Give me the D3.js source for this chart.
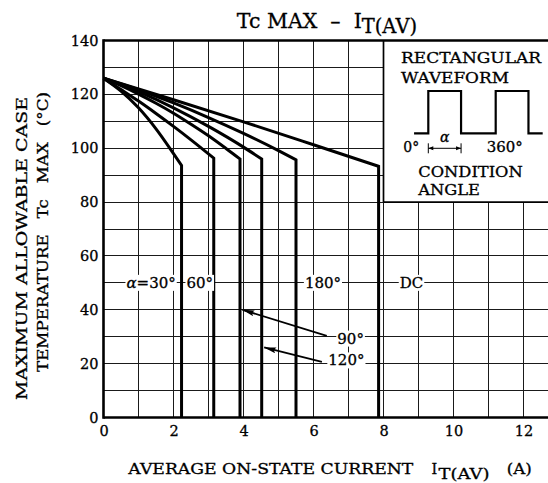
<!DOCTYPE html>
<html>
<head>
<meta charset="utf-8">
<script src="https://cdn.jsdelivr.net/npm/d3@7"></script>
<style>
  html, body { margin: 0; padding: 0; background: #fff; }
  svg { display: block; }
  text { font-family: "DejaVu Serif", "Liberation Serif", serif; fill: #000; stroke: #000; stroke-width: 0.3px; }
</style>
</head>
<body>
<svg id="chart" width="548" height="483"></svg>
<script>
// Allowable case temperature vs. average on-state current, per conduction angle.
// Each curve runs from no-load down to its kink, then drops vertically to 0 °C.
const current30  = [0, 0.5, 1.0, 1.5, 2.0, 2.23];
const temp30     = [126, 121.2, 115.0, 107.2, 98.0, 93.6];
const current60  = [0, 0.5, 1.0, 1.5, 2.0, 2.5, 3.15];
const temp60     = [126, 121.8, 117.5, 112.9, 108.1, 103.1, 96.3];
const current90  = [0, 0.5, 1.0, 1.5, 2.0, 2.5, 3.0, 3.5, 3.9];
const temp90     = [126, 123.2, 120.1, 116.7, 113.0, 108.9, 104.6, 99.9, 96.0];
const current120 = [0, 1.0, 2.0, 3.0, 4.0, 4.52];
const temp120    = [126, 121.0, 115.0, 108.1, 100.4, 96.0];
const current180 = [0, 1.0, 2.0, 3.0, 4.0, 5.0, 5.5];
const temp180    = [126, 121.7, 116.8, 111.4, 105.5, 99.1, 95.7];
const currentDC  = [0, 2.0, 4.0, 6.0, 7.86];
const tempDC     = [126, 118.0, 109.8, 101.3, 93.3];

const xTicks = [0, 2, 4, 6, 8, 10, 12];
const yTicks = [0, 20, 40, 60, 80, 100, 120, 140];

const W = 548, H = 483;
const svg = d3.select("#chart");

const x = d3.scaleLinear().domain([0, 13]).range([103.5, 103.5 + 13 * 35]);
const y = d3.scaleLinear().domain([0, 140]).range([417.5, 40.5]);

const series = [
  { I: current30,  T: temp30 },
  { I: current60,  T: temp60 },
  { I: current90,  T: temp90 },
  { I: current120, T: temp120 },
  { I: current180, T: temp180 },
  { I: currentDC,  T: tempDC }
];

// ---- grid ----
const grid = svg.append("g")
  .attr("stroke", "#1a1a1a").attr("stroke-width", 1)
  .attr("shape-rendering", "crispEdges");
d3.range(1, 14).forEach(v => grid.append("line")
  .attr("x1", x(v)).attr("x2", x(v)).attr("y1", y(0)).attr("y2", y(140)));
d3.range(10, 140, 10).forEach(v => grid.append("line")
  .attr("x1", x(0)).attr("x2", W).attr("y1", y(v)).attr("y2", y(v)));

// ---- waveform inset panel (upper right) ----
svg.append("rect")
  .attr("x", x(8)).attr("y", y(140))
  .attr("width", W - x(8)).attr("height", y(80) - y(140))
  .attr("fill", "#fff");
const insetFrame = svg.append("g").attr("stroke", "#000").attr("stroke-width", 1.7);
insetFrame.append("line").attr("x1", x(8)).attr("x2", x(8)).attr("y1", y(80)).attr("y2", y(140));
insetFrame.append("line").attr("x1", x(8)).attr("x2", W).attr("y1", y(80)).attr("y2", y(80));

// ---- frame ----
const frame = svg.append("g").attr("stroke", "#000").attr("stroke-width", 2.6);
frame.append("line").attr("x1", x(0)).attr("x2", x(0)).attr("y1", y(0) + 1.3).attr("y2", y(140) - 1.3);
frame.append("line").attr("x1", x(0)).attr("x2", W).attr("y1", y(0)).attr("y2", y(0));
frame.append("line").attr("x1", x(0)).attr("x2", W).attr("y1", y(140)).attr("y2", y(140));

// ---- axes (labels only) ----
const yAxis = svg.append("g")
  .attr("transform", `translate(${x(0)},0)`)
  .call(d3.axisLeft(y).tickValues(yTicks).tickSize(0).tickPadding(5).tickFormat(d3.format("d")));
const xAxis = svg.append("g")
  .attr("transform", `translate(0,${y(0)})`)
  .call(d3.axisBottom(x).tickValues(xTicks).tickSize(0).tickPadding(8).tickFormat(d3.format("d")));
[yAxis, xAxis].forEach(g => {
  g.select(".domain").remove();
  g.selectAll("text").attr("font-family", "DejaVu Serif").attr("font-size", 14.5).attr("fill", "#000");
});

// ---- curves ----
const curveLine = d3.line()
  .x(d => x(d[0])).y(d => y(d[1]))
  .curve(d3.curveMonotoneX);
series.forEach(s => {
  const pts = s.I.map((v, i) => [v, s.T[i]]);
  const last = pts[pts.length - 1];
  const d = curveLine(pts) + `L${x(last[0])},${y(0)}`;
  svg.append("path")
    .attr("d", d)
    .attr("fill", "none")
    .attr("stroke", "#000")
    .attr("stroke-width", 3)
    .attr("stroke-linejoin", "miter");
});

// ---- curve labels on the plot (white background boxes) ----
function boxedText(parent, tx, ty, build, anchor) {
  const g = parent.append("g");
  const t = g.append("text")
    .attr("x", tx).attr("y", ty)
    .attr("text-anchor", anchor || "middle")
    .attr("dominant-baseline", "central")
    .attr("font-size", 15);
  build(t);
  const b = t.node().getBBox();
  g.insert("rect", "text")
    .attr("x", b.x - 1).attr("y", b.y + 1)
    .attr("width", b.width + 2).attr("height", b.height - 2)
    .attr("fill", "#fff");
  return g;
}
const labels = svg.append("g");
boxedText(labels, x(1.36), y(50), t => {
  t.append("tspan").attr("font-style", "italic").text("α");
  t.append("tspan").text("=30°");
});
boxedText(labels, x(2.75), y(50), t => t.text("60°"));
boxedText(labels, x(6.27), y(50), t => t.text("180°"));
boxedText(labels, x(8.8), y(50), t => t.text("DC"));
boxedText(labels, x(7.06), y(29.3), t => t.text("90°"));
boxedText(labels, x(6.94), y(21.2), t => t.text("120°"));

// ---- pointer arrows ----
const defs = svg.append("defs");
defs.append("marker")
  .attr("id", "head")
  .attr("viewBox", "0 0 12 6")
  .attr("refX", 12).attr("refY", 3)
  .attr("markerWidth", 12).attr("markerHeight", 6)
  .attr("markerUnits", "userSpaceOnUse")
  .attr("orient", "auto")
  .append("path").attr("d", "M0,0L12,3L0,6L2,3Z").attr("fill", "#000");
const arrows = [
  { from: [6.38, 30.3], to: [3.97, 40.0] },
  { from: [6.24, 20.7], to: [4.59, 26.0] }
];
arrows.forEach(a => svg.append("line")
  .attr("x1", x(a.from[0])).attr("y1", y(a.from[1]))
  .attr("x2", x(a.to[0])).attr("y2", y(a.to[1]))
  .attr("stroke", "#000").attr("stroke-width", 1.8)
  .attr("marker-end", "url(#head)"));

// ---- inset: rectangular waveform sketch ----
const inset = svg.append("g");
inset.append("text").attr("x", 401).attr("y", 62.7).attr("font-size", 14)
  .attr("textLength", 140).attr("lengthAdjust", "spacingAndGlyphs").text("RECTANGULAR");
inset.append("text").attr("x", 401).attr("y", 83.3).attr("font-size", 14)
  .attr("textLength", 108).attr("lengthAdjust", "spacingAndGlyphs").text("WAVEFORM");

// phase axis of the sketch, in degrees
const ph = d3.scaleLinear().domain([0, 360]).range([428.3, 495.7]);
const lev = d3.scaleLinear().domain([0, 1]).range([133.3, 91]);
const waveDeg = [-76, 0, 0, 175, 175, 360, 360, 535, 535, 611];
const waveLev = [0, 0, 1, 1, 0, 0, 1, 1, 0, 0];
inset.append("path")
  .attr("d", d3.line().x(d => ph(d[0])).y(d => lev(d[1]))(waveDeg.map((v, i) => [v, waveLev[i]])))
  .attr("fill", "none").attr("stroke", "#000").attr("stroke-width", 2.2);

// α span marker
const dimY = 148.3;
const dim = inset.append("g").attr("stroke", "#000").attr("stroke-width", 1);
dim.append("line").attr("x1", ph(0)).attr("x2", ph(0)).attr("y1", dimY - 5).attr("y2", dimY + 5);
dim.append("line").attr("x1", ph(175)).attr("x2", ph(175)).attr("y1", dimY - 5).attr("y2", dimY + 5);
dim.append("line").attr("x1", ph(0)).attr("x2", ph(175)).attr("y1", dimY).attr("y2", dimY);
inset.append("path")
  .attr("d", `M${ph(0)},${dimY}l5,-2v4z M${ph(175)},${dimY}l-5,-2v4z`)
  .attr("fill", "#000");
inset.append("text").attr("x", (ph(0) + ph(175)) / 2).attr("y", 141.5)
  .attr("text-anchor", "middle").attr("font-size", 14).attr("font-style", "italic").text("α");
inset.append("text").attr("x", 403.3).attr("y", 151.7).attr("font-size", 14).text("0°");
inset.append("text").attr("x", 486.7).attr("y", 151.7).attr("font-size", 14)
  .attr("textLength", 36).attr("lengthAdjust", "spacingAndGlyphs").text("360°");
inset.append("text").attr("x", 418.3).attr("y", 176.7).attr("font-size", 14)
  .attr("textLength", 104.4).attr("lengthAdjust", "spacingAndGlyphs").text("CONDITION");
inset.append("text").attr("x", 418.3).attr("y", 195).attr("font-size", 14)
  .attr("textLength", 61.7).attr("lengthAdjust", "spacingAndGlyphs").text("ANGLE");

// ---- titles ----
const title = svg.append("text")
  .attr("x", 327).attr("y", 28)
  .attr("text-anchor", "middle").attr("font-size", 20.5)
  .style("white-space", "pre");
title.append("tspan").text("Tc MAX  –  I");
title.append("tspan").attr("dy", 5).attr("font-size", 19.5).text("T(AV)");

svg.append("text").attr("x", 128.3).attr("y", 474.3).attr("font-size", 14.5)
  .attr("textLength", 285).attr("lengthAdjust", "spacingAndGlyphs")
  .text("AVERAGE ON-STATE CURRENT");
svg.append("text").attr("x", 431.5).attr("y", 474.3).attr("font-size", 14.5).text("I");
svg.append("text").attr("x", 438.5).attr("y", 478.5).attr("font-size", 14.5)
  .attr("textLength", 51).attr("lengthAdjust", "spacingAndGlyphs").text("T(AV)");
svg.append("text").attr("x", 506.7).attr("y", 474.3).attr("font-size", 14.5)
  .attr("textLength", 25).attr("lengthAdjust", "spacingAndGlyphs").text("(A)");

svg.append("text")
  .attr("transform", "translate(27,400) rotate(-90)")
  .attr("font-size", 14.5)
  .attr("textLength", 303).attr("lengthAdjust", "spacingAndGlyphs")
  .text("MAXIMUM ALLOWABLE CASE");
svg.append("text")
  .attr("transform", "translate(48,372) rotate(-90)")
  .attr("font-size", 14.5)
  .style("white-space", "pre")
  .attr("textLength", 280).attr("lengthAdjust", "spacingAndGlyphs")
  .text("TEMPERATURE   Tc   MAX   (°C)");
</script>
</body>
</html>
